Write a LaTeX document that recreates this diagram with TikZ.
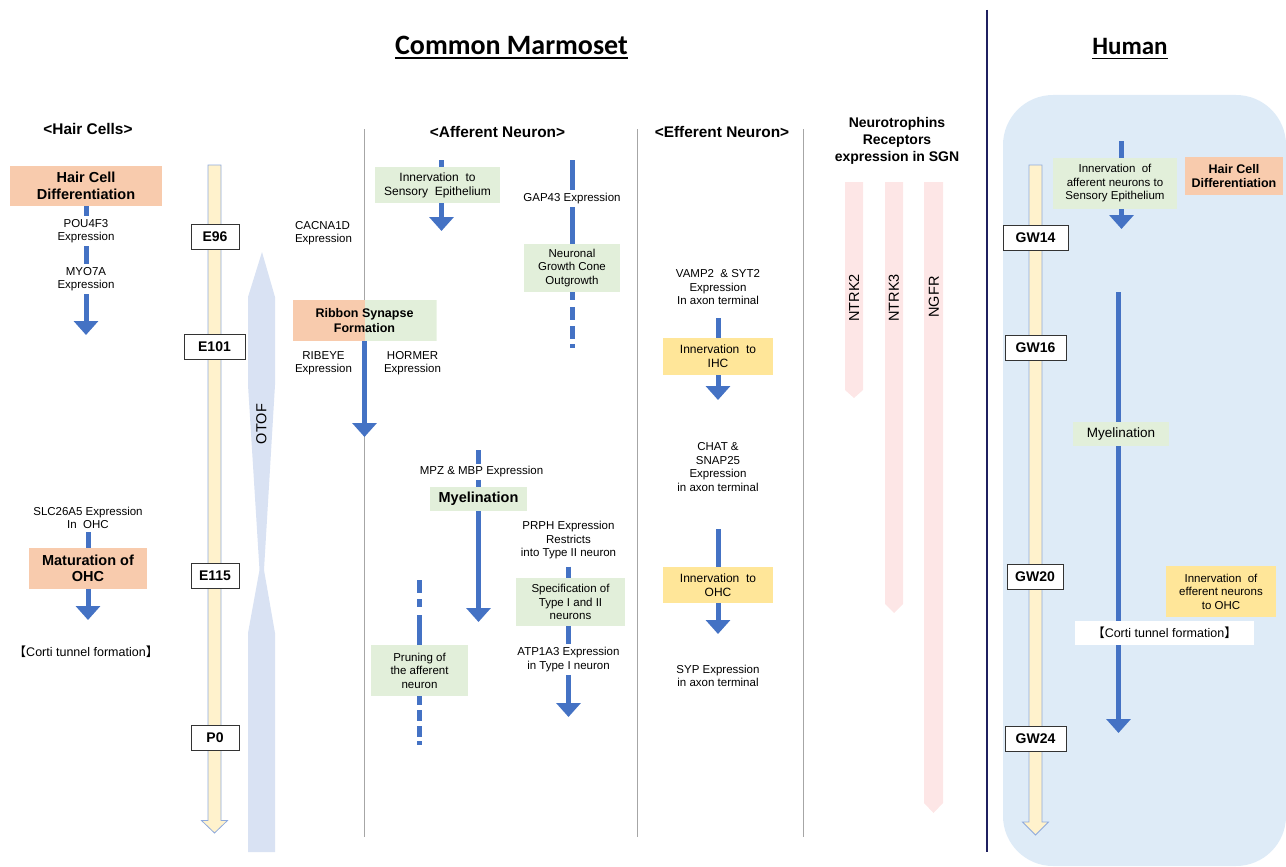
\documentclass[tikz,border=0pt]{standalone}
\usepackage{fontspec}
\setmainfont{Liberation Sans}
\newfontfamily\calibfont{Carlito}
\newfontfamily\cjkfont{Noto Sans CJK JP}
\usetikzlibrary{arrows.meta}
\definecolor{ablue}{HTML}{4472C4}
\definecolor{peach}{HTML}{F8CBAD}
\definecolor{lgreen}{HTML}{E2EFDA}
\definecolor{lyellow}{HTML}{FFE699}
\definecolor{beige}{HTML}{FFF2CC}
\definecolor{beigeedge}{HTML}{8FAADC}
\definecolor{otofblue}{HTML}{D9E2F3}
\definecolor{humanbg}{HTML}{DEEBF7}
\definecolor{lpink}{HTML}{FDE6E6}
\definecolor{sepgray}{HTML}{A6A6A6}
\definecolor{navy}{HTML}{1F2060}
\newcommand\txsmall{\fontsize{11.5}{13.5}\selectfont}
\newcommand\txhead{\fontsize{15.4}{17}\selectfont\bfseries}
\newcommand\txbold{\fontsize{14.5}{16.5}\selectfont\bfseries}
\newcommand\txnorm{\fontsize{12}{14}\selectfont}
\newcommand\cortitext{{\cjkfont 【}Corti tunnel formation{\cjkfont 】}}
\begin{document}
\begin{tikzpicture}[x=1pt,y=-1pt,
  txt/.style={align=center,font=\txsmall,inner sep=3pt},
  head/.style={align=center,font=\txhead,inner sep=0pt},
  pbox/.style={fill=peach,align=center,font=\txbold,inner sep=0pt},
  gbox/.style={fill=lgreen,align=center,font=\txnorm,inner sep=0pt},
  ybox/.style={fill=lyellow,align=center,font=\txnorm,inner sep=0pt},
  tlabel/.style={draw=black!80,fill=white,line width=0.8pt,font=\fontsize{14}{16}\selectfont\bfseries,inner sep=0pt,minimum height=25pt},
  tbar/.style={fill=beige,draw=beigeedge,line width=0.8pt},
  flow/.style={draw=ablue,line width=5pt},
  farr/.style={draw=ablue,line width=5pt,-{Triangle[width=24pt,length=14pt]}},
  rotlab/.style={rotate=90,font=\fontsize{14.5}{16}\selectfont,inner sep=0pt},
  ttl/.style={anchor=base,font=\calibfont\fontsize{28}{30}\selectfont\bfseries,inner sep=0pt}]
\useasboundingbox (0,0) rectangle (1286,867);

% ---------- human panel background ----------
\fill[humanbg,rounded corners=50pt] (1003,95) rectangle (1286,866);

% ---------- titles ----------
\node[ttl] (tcm) at (511.5,54.5) {Common Marmoset};
\draw[line width=1.6pt] ([yshift=-3.5pt]tcm.base west) -- ([yshift=-3.5pt]tcm.base east);
\node[ttl,font=\calibfont\fontsize{25}{28}\selectfont\bfseries] (thu) at (1130,55) {Human};
\draw[line width=1.6pt] ([yshift=-3.5pt]thu.base west) -- ([yshift=-3.5pt]thu.base east);

% ---------- separators ----------
\draw[navy,line width=2.5pt] (987,10) -- (987,852);
\draw[sepgray,line width=1pt] (364.5,129) -- (364.5,837);
\draw[sepgray,line width=1pt] (637.5,129) -- (637.5,837);
\draw[sepgray,line width=1pt] (803.5,129) -- (803.5,837);

% ---------- section headers ----------
\node[head] (hhc) at (88,129) {<Hair Cells>};
\node[head] (haf) at (497.5,131.5) {<Afferent Neuron>};
\node[head] (hef) at (722,131.5) {<Efferent Neuron>};
\node[head,font=\fontsize{14}{16.7}\selectfont\bfseries] (hnt) at (897,141) {Neurotrophins\\Receptors\\expression in SGN};

% ---------- marmoset timeline ----------
\draw[tbar] (208,165) -- (221,165) -- (221,820.5) -- (227.5,820.5) -- (214.5,833) -- (201.5,820.5) -- (208,820.5) -- cycle;
\node[tlabel,minimum width=48pt] (e96) at (215,236.5) {E96};
\node[tlabel,minimum width=61pt] (e101) at (214.5,346.5) {E101};
\node[tlabel,minimum width=48pt] (e115) at (215,575.5) {E115};
\node[tlabel,minimum width=48pt] (p0) at (215,737.5) {P0};

% OTOF
\fill[otofblue] (262,252) -- (275,297) -- (275,385) -- (264,570) -- (275,633) -- (275,852) -- (248,852) -- (248,633) -- (259.5,570) -- (248,385) -- (248,297) -- cycle;
\node[rotlab] (otof) at (261.5,424) {OTOF};

% ---------- hair cells ----------
\node[pbox,minimum width=152pt,minimum height=40pt] (hcd) at (86,186) {Hair Cell\\Differentiation};
\node[txt] (pou) at (86,231) {POU4F3\\Expression};
\node[txt] (myo) at (86,279) {MYO7A\\Expression};
\coordinate (myoend) at (86,335);
\draw[flow] (hcd.south) -- (pou.north);
\draw[flow] (pou.south) -- (myo.north);
\draw[farr] (myo.south) -- (myoend);

\node[txt] (slc) at (88,518) {SLC26A5 Expression\\In\ \ OHC};
\node[pbox,minimum width=118pt,minimum height=41pt] (mohc) at (88,568.5) {Maturation of\\OHC};
\coordinate (mohcend) at (88,620);
\draw[flow] (slc.south) -- (mohc.north);
\draw[farr] (mohc.south) -- (mohcend);
\node[inner sep=0pt,font=\fontsize{12.5}{14}\selectfont] (cortl) at (86,652) {\cortitext};

% ---------- afferent neuron ----------
\node[txt,align=left] (cac) at (323.5,233) {CACNA1D\\Expression};

\node[minimum width=144pt,minimum height=41pt,inner sep=0pt,align=center,font=\fontsize{12.5}{15}\selectfont\bfseries,
  path picture={\fill[peach] (path picture bounding box.north west) rectangle (path picture bounding box.south);
                \fill[lgreen] (path picture bounding box.north) rectangle (path picture bounding box.south east);}]
  (rsf) at (364.5,320.5) {Ribbon Synapse\\Formation};
\node[txt] (rib) at (323.5,363) {RIBEYE\\Expression};
\node[txt] (hor) at (412.5,363) {HORMER\\Expression};
\coordinate (rsfend) at (364.5,437);
\draw[farr] (rsf.south) -- (rsfend);

\node[gbox,minimum width=125pt,minimum height=36pt] (ise) at (437.5,185) {Innervation\ \ to\\Sensory\ \ Epithelium};
\coordinate (isetop) at (441.5,160);
\coordinate (iseend) at (441.5,231);
\draw[flow] (isetop) -- (ise.north -| isetop);
\draw[farr] (ise.south -| isetop) -- (iseend);

\coordinate (gaptop) at (572,160);
\node[txt] (gap) at (572,198.5) {GAP43 Expression};
\node[gbox,minimum width=96pt,minimum height=48pt,font=\txsmall] (ngc) at (572,268) {Neuronal\\Growth Cone\\Outgrowth};
\coordinate (ngcend) at (572,348);
\draw[flow] (gaptop) -- (gap.north);
\draw[flow] (gap.south) -- (ngc.north);
\draw[flow,dash pattern=on 8pt off 7pt on 13pt off 6pt on 13pt off 5pt on 4pt off 10pt] (ngc.south) -- (ngcend);

\coordinate (mpztop) at (478.5,450);
\node[txt,inner sep=2pt] (mpz) at (481.5,472) {MPZ \& MBP Expression};
\node[gbox,minimum width=97pt,minimum height=24pt,font=\txbold] (mye) at (478.5,499) {Myelination};
\coordinate (myeend) at (478.5,622);
\draw[flow] (mpztop) -- (mpz.north -| mpztop);
\draw[flow] (mpz.south -| mpztop) -- (mye.north);
\draw[farr] (mye.south) -- (myeend);

\node[txt] (prph) at (568.5,540.5) {PRPH Expression\\Restricts\\into Type II neuron};
\node[gbox,minimum width=109pt,minimum height=48pt,font=\txsmall] (spec) at (570.5,602) {Specification of\\Type I and II\\neurons};
\node[txt] (atp) at (568.5,659.5) {ATP1A3 Expression\\in Type I neuron};
\coordinate (atpend) at (568.5,717);
\draw[flow] ([yshift=-4pt]prph.south) -- (spec.north -| prph.south);
\draw[flow] (spec.south -| prph.south) -- (atp.north);
\draw[farr] (atp.south) -- (atpend);

\coordinate (prtop) at (419.5,580);
\node[gbox,minimum width=97pt,minimum height=51pt,font=\txsmall] (pru) at (419.5,670.5) {Pruning of\\the afferent\\neuron};
\coordinate (prend) at (419.5,745);
\draw[flow,dash pattern=on 13pt off 6pt on 8pt off 8pt on 30pt] (prtop) -- (pru.north);
\draw[flow,dash pattern=on 9pt off 5pt on 11pt off 5pt on 11pt off 4pt on 6pt off 5pt] (pru.south) -- (prend);

% ---------- efferent neuron ----------
\node[txt] (vamp) at (718,287.5) {VAMP2\ \ \& SYT2\\Expression\\In axon terminal};
\coordinate (ihctop) at (718,318);
\node[ybox,minimum width=110pt,minimum height=37pt] (ihc) at (718,356.5) {Innervation\ \ to\\IHC};
\coordinate (ihcend) at (718,400);
\draw[flow] (ihctop) -- (ihc.north);
\draw[farr] (ihc.south) -- (ihcend);

\node[txt] (chat) at (718,467) {CHAT \&\\SNAP25\\Expression\\in axon terminal};
\coordinate (ohctop) at (718,529);
\node[ybox,minimum width=110pt,minimum height=36pt] (ohc) at (718,585) {Innervation\ \ to\\OHC};
\coordinate (ohcend) at (718,634);
\draw[flow] (ohctop) -- (ohc.north);
\draw[farr] (ohc.south) -- (ohcend);
\node[txt] (syp) at (718,676) {SYP Expression\\in axon terminal};

% ---------- neurotrophin receptors ----------
\fill[lpink] (845,182) -- (863,182) -- (863,390) -- (854,398) -- (845,390) -- cycle;
\fill[lpink] (885,182) -- (903,182) -- (903,604) -- (894,613) -- (885,604) -- cycle;
\fill[lpink] (924,182) -- (943,182) -- (943,803) -- (933.5,813) -- (924,803) -- cycle;
\node[rotlab] (ntrk2) at (854,298) {NTRK2};
\node[rotlab] (ntrk3) at (894,298) {NTRK3};
\node[rotlab] (ngfr) at (934,297) {NGFR};

% ---------- human ----------
\draw[tbar] (1029,165) -- (1042,165) -- (1042,822) -- (1048.5,822) -- (1035.5,835) -- (1022.5,822) -- (1029,822) -- cycle;
\node[tlabel,minimum width=65pt] (gw14) at (1035.5,237.5) {GW14};
\node[tlabel,minimum width=61pt] (gw16) at (1035.5,348) {GW16};
\node[tlabel,minimum width=56pt] (gw20) at (1035,576.5) {GW20};
\node[tlabel,minimum width=61pt] (gw24) at (1035.5,738.5) {GW24};

\node[gbox,minimum width=124pt,minimum height=51pt,font=\txsmall] (hinn) at (1115,183.5) {Innervation\ \ of\\afferent neurons to\\Sensory Epithelium};
\coordinate (hinntop) at (1121.5,141);
\coordinate (hinnend) at (1121.5,229);
\draw[flow] (hinntop) -- (hinn.north -| hinntop);
\draw[farr] (hinn.south -| hinntop) -- (hinnend);

\node[pbox,minimum width=98pt,minimum height=38pt,font=\fontsize{12.5}{14.5}\selectfont\bfseries] (hhcd) at (1234,176) {Hair Cell\\Differentiation};

\coordinate (hmytop) at (1118.5,292);
\node[gbox,minimum width=96pt,minimum height=24pt,font=\fontsize{13.5}{15}\selectfont] (hmye) at (1121,434) {Myelination};
\coordinate (hmyend) at (1118.5,733);
\draw[flow] (hmytop) -- (hmye.north -| hmytop);
\draw[farr] (hmye.south -| hmytop) -- (hmyend);

\node[ybox,minimum width=110pt,minimum height=51pt,font=\txsmall] (heff) at (1221,591.5) {Innervation\ \ of\\efferent neurons\\to OHC};
\node[fill=white,minimum width=179pt,minimum height=24pt,inner sep=0pt,font=\fontsize{12.5}{14}\selectfont] (hcort) at (1164.5,633) {\cortitext};
\end{tikzpicture}
\end{document}
